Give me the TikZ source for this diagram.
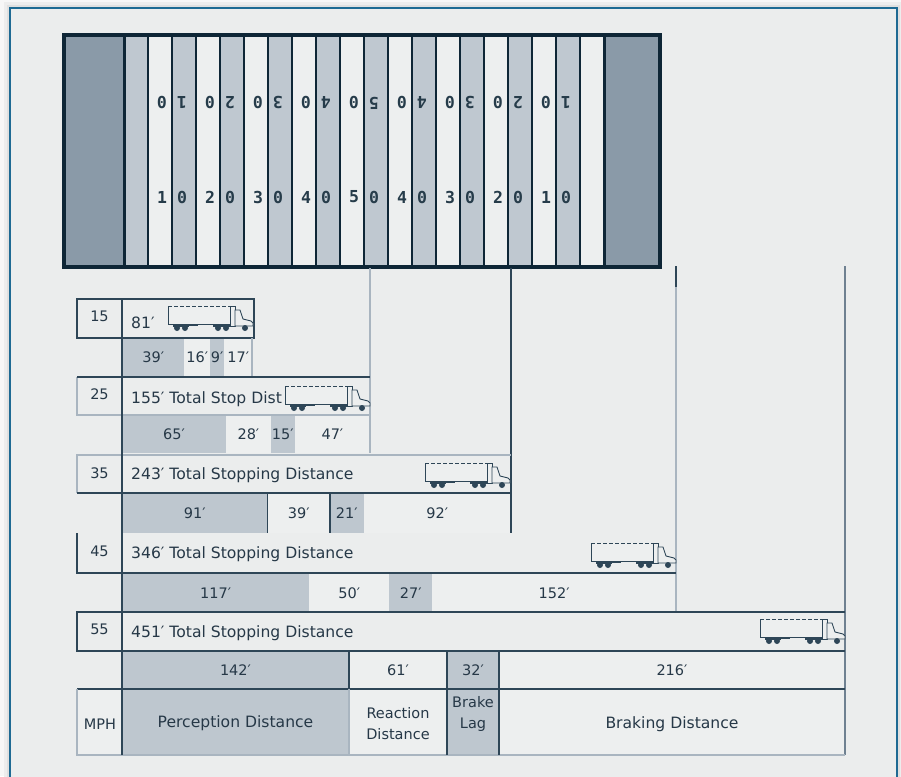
\documentclass[tikz,border=0pt]{standalone}
\usepackage{fontspec}
\setmainfont{DejaVu Sans}
\newfontfamily\fieldfont{DejaVu Sans Mono}
\definecolor{bg}{HTML}{EBEDED}
\definecolor{frameblue}{HTML}{1E6A93}
\definecolor{fdark}{HTML}{0E2636}
\definecolor{endzone}{HTML}{8A9AA8}
\definecolor{stripe}{HTML}{BFC8D0}
\definecolor{lite}{HTML}{EDEFEF}
\definecolor{segg}{HTML}{BEC7CF}
\definecolor{lnd}{HTML}{2E4657}
\definecolor{lnl}{HTML}{A9B5C0}
\definecolor{lnm}{HTML}{6F8191}
\definecolor{txt}{HTML}{263847}
\tikzset{
  lab/.style={font=\fontsize{14.5}{21}\selectfont, text=txt, inner sep=0pt},
  big/.style={lab, font=\fontsize{15.6}{21}\selectfont},
  dk/.style={draw=lnd, line width=1.3pt},
  lt/.style={draw=lnl, line width=1.3pt},
  fnum/.style={font=\fieldfont\bfseries\fontsize{16.5}{16.5}\selectfont, text=fdark!90!white, inner sep=0pt},
  trk/.style={draw=lnd, line width=0.9pt},
  truck/.pic={
    \fill[lite] (-85,-25) rectangle (-20,-7);
    \draw[trk] (-85,-25) -- (-85,-7) -- (-20,-7) -- (-20,-25);
    \draw[trk, dash pattern=on 4pt off 2pt] (-85,-25) -- (-20,-25);
    \fill[lnd] (-80,-7.5) rectangle (-64,-4.5);
    \fill[lnd] (-76,-3) circle (3);
    \fill[lnd] (-68,-3) circle (3);
    \draw[lnd, line width=1pt] (-64,-6) -- (-55,-6);
    \fill[lnd] (-40,-7.5) rectangle (-20,-4.5);
    \fill[lnd] (-35,-3) circle (3);
    \fill[lnd] (-27,-3) circle (3);
    \draw[trk, fill=lite] (-23,-25) rectangle (-18,-5);
    \draw[trk, fill=lite] (-18,-21) -- (-13,-21) -- (-10,-12) -- (-2,-10) -- (0,-8) -- (0,-5) -- (-18,-5) -- cycle;
    \fill[lnd] (-8,-3) circle (3);
  }
}
\begin{document}
\begin{tikzpicture}[x=1pt,y=-1pt]
\useasboundingbox (0,0) rectangle (901,776);
\clip (0,0) rectangle (901,776);
% page and frame
\fill[white!97!black] (0,0) rectangle (901,776);
\fill[black!7] (4,2) rectangle (903,800);
\fill[black!12] (7,5) rectangle (900,800);
\fill[bg] (10,8) rectangle (897,800);
\draw[frameblue, line width=1.3pt] (10,8) rectangle (897,800);

% ---------- football field ----------
\fill[lite] (64,35) rectangle (660,267);
\foreach \i in {0,2,...,18} \fill[stripe] ({124+24*\i},35) rectangle ({148+24*\i},267);
\fill[endzone] (64,35) rectangle (124,267);
\fill[endzone] (604,35) rectangle (660,267);
\foreach \k in {0,...,9} \draw[fdark, line width=2.2pt] ({148+48*\k},35) -- ({148+48*\k},267);
\foreach \k in {0,...,8} \draw[fdark, line width=1.3pt] ({172+48*\k},35) -- ({172+48*\k},267);
\draw[fdark, line width=3pt] (124,35) -- (124,267);
\draw[fdark, line width=3pt] (604,35) -- (604,267);
\draw[fdark, line width=4.5pt] (64,35) rectangle (660,267);
\foreach \t/\u [count=\k from 0] in {1/0,2/0,3/0,4/0,5/0,4/0,3/0,2/0,1/0} {
  \node[fnum] (b\k t) at ({172+48*\k-10},197) {\t};
  \node[fnum] (b\k u) at ({172+48*\k+10},197) {\u};
  \node[fnum, rotate=180] (u\k t) at ({172+48*\k+10},103) {\t};
  \node[fnum, rotate=180] (u\k u) at ({172+48*\k-10},103) {\u};
}

% ---------- segment fills ----------
% row 15
\fill[segg] (122,338) rectangle (184.4,376);
\fill[lite] (184.4,338) rectangle (210,376);
\fill[segg] (210,338) rectangle (224.4,376);
\fill[lite] (224.4,338) rectangle (252,376);
% row 25
\fill[segg] (122,415) rectangle (226,453);
\fill[lite] (226,415) rectangle (270.8,453);
\fill[segg] (270.8,415) rectangle (294.8,453);
\fill[lite] (294.8,415) rectangle (370,453);
% row 35
\fill[segg] (122,493) rectangle (267.6,533);
\fill[lite] (267.6,493) rectangle (330,533);
\fill[segg] (330,493) rectangle (363.6,533);
\fill[lite] (363.6,493) rectangle (511,533);
% row 45
\fill[segg] (122,573) rectangle (309.2,613);
\fill[lite] (309.2,573) rectangle (389.2,613);
\fill[segg] (389.2,573) rectangle (432.4,613);
\fill[lite] (432.4,573) rectangle (676,613);
% row 55
\fill[segg] (122,651) rectangle (349,689);
\fill[lite] (349,651) rectangle (447,689);
\fill[segg] (447,651) rectangle (499,689);
\fill[lite] (499,651) rectangle (845,689);
% legend
\fill[lite] (77,689) rectangle (122,755);
\fill[segg] (122,689) rectangle (349,755);
\fill[lite] (349,689) rectangle (447,755);
\fill[segg] (447,689) rectangle (499,755);
\fill[lite] (499,689) rectangle (845,755);

% ---------- long verticals ----------
\draw[lt] (370,268) -- (370,453);
\draw[dk] (511,268) -- (511,533);
\draw[lt] (676,266) -- (676,613);
\draw[dk] (676,266) -- (676,287);
\draw[draw=lnm, line width=1.3pt] (845,266) -- (845,755);

% ---------- row boxes ----------
% row 15
\draw[dk] (77,299) rectangle (254,338);
\draw[lt] (252,338) -- (252,376);
% row 25
\draw[lt] (77,377) -- (77,415) -- (370,415);
\draw[dk] (77,377) -- (370,377);
% row 35
\draw[lt] (511,455) -- (77,455) -- (77,493);
\draw[dk] (77,493) -- (511,493);
\draw[dk] (267.6,493) -- (267.6,533);
\draw[dk] (330,493) -- (330,533);
% row 45
\draw[dk] (77,533) -- (77,573) -- (676,573);
% row 55
\draw[dk] (845,612) -- (77,612) -- (77,651) -- (845,651);
\draw[dk] (349,651) -- (349,689);
\draw[dk] (447,651) -- (447,689);
\draw[dk] (499,651) -- (499,689);
\draw[dk] (77,689) -- (845,689);
% legend
\draw[lt] (77,689) -- (77,755) -- (845,755);
\draw[lt] (349,689) -- (349,755);
\draw[dk] (447,689) -- (447,755);
\draw[dk] (499,689) -- (499,755);
% main divider
\draw[dk] (122,299) -- (122,755);

% ---------- texts ----------
\node[lab] (m15) at (99.5,316) {15};
\node[lab] (m25) at (99.5,394) {25};
\node[lab] (m35) at (99.5,473) {35};
\node[lab] (m45) at (99.5,551) {45};
\node[lab] (m55) at (99.5,629) {55};

\node[big, anchor=west] (t15) at (131,323) {81′};
\node[big, anchor=west] (t25) at (131,399) {155′ Total Stop Dist};
\node[big, anchor=west] (t35) at (131,475) {243′ Total Stopping Distance};
\node[big, anchor=west] (t45) at (131,554) {346′ Total Stopping Distance};
\node[big, anchor=west] (t55) at (131,633) {451′ Total Stopping Distance};

\node[lab] (s15a) at (153.2,357) {39′};
\node[lab] (s15b) at (197.2,357) {16′};
\node[lab] (s15c) at (217.2,357) {9′};
\node[lab] (s15d) at (238.2,357) {17′};

\node[lab] (s25a) at (174,434) {65′};
\node[lab] (s25b) at (248.4,434) {28′};
\node[lab] (s25c) at (282.8,434) {15′};
\node[lab] (s25d) at (332.4,434) {47′};

\node[lab] (s35a) at (194.8,513) {91′};
\node[lab] (s35b) at (298.8,513) {39′};
\node[lab] (s35c) at (346.8,513) {21′};
\node[lab] (s35d) at (437.3,513) {92′};

\node[lab] (s45a) at (215.6,593) {117′};
\node[lab] (s45b) at (349.2,593) {50′};
\node[lab] (s45c) at (410.8,593) {27′};
\node[lab] (s45d) at (554.2,593) {152′};

\node[lab] (s55a) at (235.5,670) {142′};
\node[lab] (s55b) at (398,670) {61′};
\node[lab] (s55c) at (473,670) {32′};
\node[lab] (s55d) at (672,670) {216′};

\node[lab] (lmph) at (100,724) {MPH};
\node[big] (lper) at (235.5,723) {Perception Distance};
\node[lab, align=center] (lrea) at (398,724) {Reaction\\Distance};
\node[lab, align=center] (lbra) at (473,714) {Brake\\Lag};
\node[big] (lbrk) at (672,724) {Braking Distance};

% ---------- trucks ----------
\pic at (253,331) {truck};
\pic at (370,411) {truck};
\pic at (510,488) {truck};
\pic at (676,568) {truck};
\pic at (845,644) {truck};
\end{tikzpicture}
\end{document}
